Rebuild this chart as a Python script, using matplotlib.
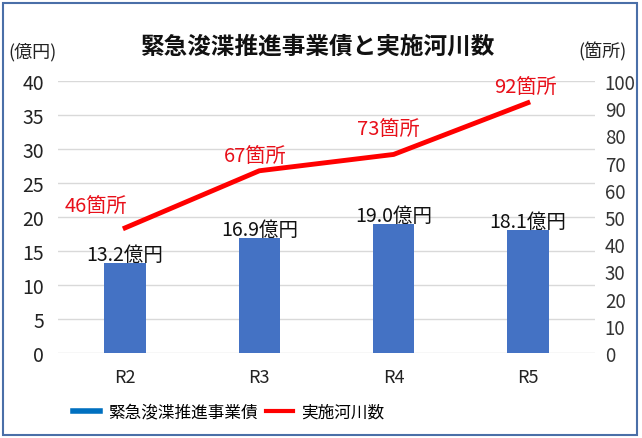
import matplotlib
matplotlib.use("Agg")
import matplotlib.pyplot as plt
from matplotlib.lines import Line2D
from matplotlib.patches import Rectangle

plt.rcParams['font.family'] = ['Noto Sans CJK JP', 'DejaVu Sans']

categories = ["R2", "R3", "R4", "R5"]
bond_values = [13.2, 16.9, 19.0, 18.1]        # 億円
river_counts = [46, 67, 73, 92]               # 箇所
bond_labels = ["13.2億円", "16.9億円", "19.0億円", "18.1億円"]
count_labels = ["46箇所", "67箇所", "73箇所", "92箇所"]
left_ticks = [0, 5, 10, 15, 20, 25, 30, 35, 40]
right_ticks = [0, 10, 20, 30, 40, 50, 60, 70, 80, 90, 100]

W, H = 642, 439
fig = plt.figure(figsize=(W / 100, H / 100), dpi=100)
fig.patch.set_facecolor("white")
fig.add_artist(Rectangle((3 / W, 3 / H), 634 / W, 432 / H, transform=fig.transFigure,
                         fill=False, edgecolor="#4A6FA8", linewidth=1.5))

ax = fig.add_axes([58 / W, (H - 354) / H, 537 / W, 272 / H])
x = list(range(len(categories)))
ax.bar(x, bond_values, width=0.31, color="#4472C4", zorder=2)
ax.set_ylim(0, 40)
ax.set_xlim(-0.5, 3.5)
ax.set_yticks(left_ticks)
ax.set_xticks(x)
ax.set_xticklabels(categories, fontsize=13)
ax.tick_params(axis="y", labelsize=14, length=0, pad=10, colors="#222222")
ax.tick_params(axis="x", length=0, pad=11, colors="#222222")
ax.grid(axis="y", color="#D9D9D9", linewidth=1, zorder=0)
for s in ax.spines.values():
    s.set_visible(False)

for xi, v, lab in zip(x, bond_values, bond_labels):
    ax.text(xi, v + 1.3, lab, ha="center", va="center", fontsize=14, color="#111111", zorder=5)

ax2 = ax.twinx()
ax2.plot(x, river_counts, color="#FF0000", linewidth=3.5, zorder=3)
ax2.set_ylim(0, 100)
ax2.set_yticks(right_ticks)
ax2.tick_params(axis="y", labelsize=13.5, length=0, pad=7, colors="#333333")
for s in ax2.spines.values():
    s.set_visible(False)

offsets = [(-0.22, 8.4), (-0.03, 5.6), (-0.04, 9.4), (-0.02, 5.8)]
for xi, c, lab, (dx, dy) in zip(x, river_counts, count_labels, offsets):
    ax2.text(xi + dx, c + dy, lab, ha="center", va="center", fontsize=14.5, color="#E8101A")

fig.text(318 / W, (H - 47) / H, "緊急浚渫推進事業債と実施河川数", ha="center", va="center",
         fontsize=17, fontweight="bold", color="#111111")
fig.text(33 / W, (H - 52) / H, "(億円)", ha="center", va="center", fontsize=13, color="#222222")
fig.text(603 / W, (H - 52) / H, "(箇所)", ha="center", va="center", fontsize=13, color="#222222")

handles = [Line2D([0], [0], color="#0070C0", linewidth=4),
           Line2D([0], [0], color="#FF0000", linewidth=3)]
fig.legend(handles, ["緊急浚渫推進事業債", "実施河川数"], loc="center",
           bbox_to_anchor=(229 / W, (H - 413) / H), ncol=2, frameon=False, fontsize=12,
           handlelength=1.6, handletextpad=0.5, columnspacing=0.5)

fig.savefig("out.png", dpi=100)
